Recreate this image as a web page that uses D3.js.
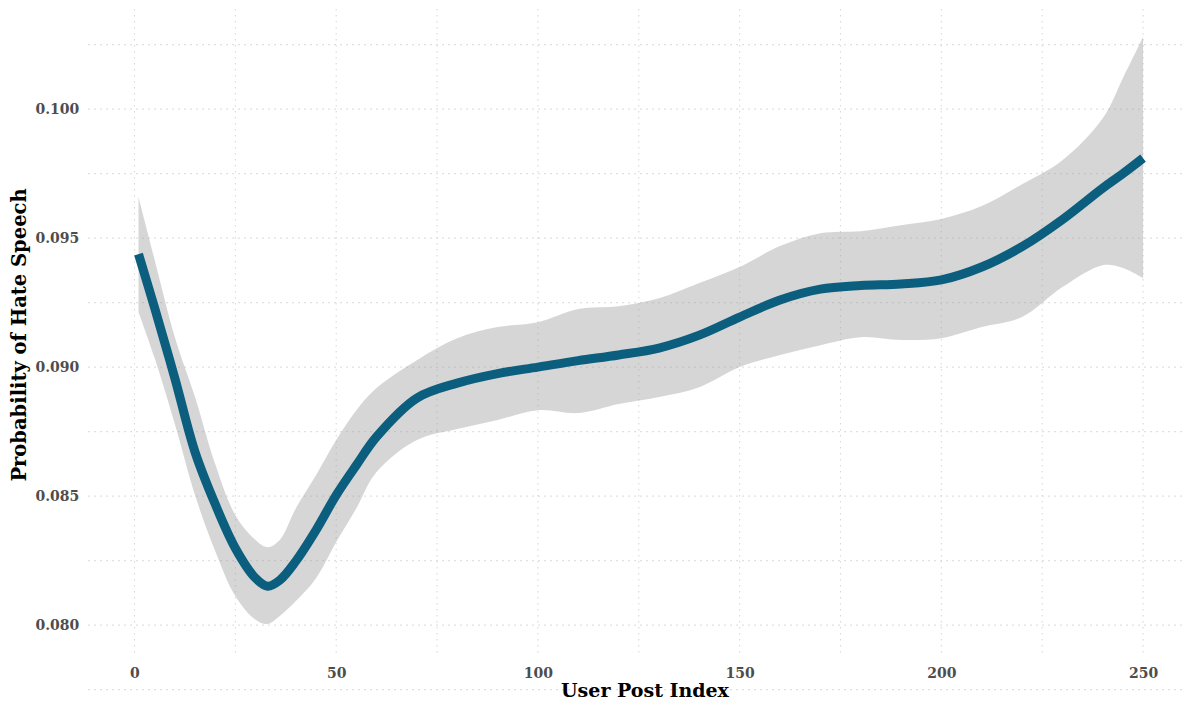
<!DOCTYPE html>
<html>
<head>
<meta charset="utf-8">
<script src="https://cdn.jsdelivr.net/npm/d3@7"></script>
<style>
  html, body { margin: 0; padding: 0; background: #ffffff; }
  svg { display: block; }
  text { font-family: "DejaVu Serif", "Liberation Serif", serif; font-weight: bold; }
</style>
</head>
<body>
<svg id="chart" width="1182" height="704"></svg>
<script>
// Smoothed probability of hate speech by the index of a user's post
const postIndex = [1, 5, 10, 15, 20, 25, 30, 33, 36, 40, 45, 50, 55, 60, 70, 80, 90, 100, 110, 120,
                   130, 140, 150, 160, 170, 180, 190, 200, 210, 220, 230, 240, 245, 250];
const fitted    = [0.09438, 0.09229, 0.08957, 0.08671, 0.08469, 0.08298, 0.08182, 0.08151, 0.08174, 0.08248,
                   0.08368, 0.08504, 0.08620, 0.08730, 0.08880, 0.08938, 0.08975, 0.09000, 0.09025, 0.09047,
                   0.09074, 0.09124, 0.09194, 0.09260, 0.09302, 0.09316, 0.09322, 0.09338, 0.09388, 0.09467,
                   0.09572, 0.09694, 0.09750, 0.09810];
const upperBand = [0.09659, 0.09415, 0.09116, 0.08884, 0.08624, 0.08426, 0.08330, 0.08302, 0.08330, 0.08453,
                   0.08581, 0.08717, 0.08833, 0.08919, 0.09027, 0.09112, 0.09155, 0.09174, 0.09225, 0.09236,
                   0.09267, 0.09326, 0.09388, 0.09469, 0.09519, 0.09527, 0.09550, 0.09574, 0.09624, 0.09709,
                   0.09802, 0.09965, 0.10120, 0.10279];
const lowerBand = [0.09213, 0.09035, 0.08779, 0.08504, 0.08287, 0.08112, 0.08021, 0.08004, 0.08035, 0.08093,
                   0.08182, 0.08322, 0.08453, 0.08593, 0.08717, 0.08760, 0.08795, 0.08833, 0.08822, 0.08857,
                   0.08884, 0.08922, 0.09000, 0.09047, 0.09085, 0.09116, 0.09105, 0.09112, 0.09155, 0.09194,
                   0.09310, 0.09395, 0.09384, 0.09345];

const xTicks = [0, 50, 100, 150, 200, 250];
const xMinorTicks = [25, 75, 125, 175, 225];
const yTicks = [0.080, 0.085, 0.090, 0.095, 0.100];
const yMinorTicks = [0.0775, 0.0825, 0.0875, 0.0925, 0.0975, 0.1025];

const xTitle = "User Post Index";
const yTitle = "Probability of Hate Speech";

const svg = d3.select("#chart");
const W = 1182, H = 704;
const panel = { left: 88.3, right: 1193.3, top: 9, bottom: 654 };

const x = d3.scaleLinear().domain([-11.45, 262.45]).range([panel.left, panel.right]);
const y = d3.scaleLinear().domain([0.07888, 0.10388]).range([panel.bottom, panel.top]);

const rows = postIndex.map((p, i) => ({ p, fit: fitted[i], lo: lowerBand[i], hi: upperBand[i] }));

// grid (dotted, major and minor alike)
const grid = svg.append("g").attr("class", "grid")
  .attr("stroke", "#d9d9d9").attr("stroke-width", 1.1).attr("stroke-dasharray", "1.6,4.4");
grid.selectAll("line.h").data(yTicks.concat(yMinorTicks)).join("line").attr("class", "h")
  .attr("x1", panel.left).attr("x2", W)
  .attr("y1", d => y(d)).attr("y2", d => y(d));
grid.selectAll("line.v").data(xTicks.concat(xMinorTicks)).join("line").attr("class", "v")
  .attr("y1", panel.top).attr("y2", panel.bottom)
  .attr("x1", d => x(d)).attr("x2", d => x(d));

const smooth = d3.curveCatmullRom.alpha(0.5);

// confidence band
const band = d3.area()
  .x(d => x(d.p)).y0(d => y(d.lo)).y1(d => y(d.hi))
  .curve(smooth);
svg.append("path").datum(rows)
  .attr("d", band)
  .attr("fill", "#999999").attr("fill-opacity", 0.4);

// fitted line
const fitLine = d3.line().x(d => x(d.p)).y(d => y(d.fit)).curve(smooth);
svg.append("path").datum(rows)
  .attr("d", fitLine)
  .attr("fill", "none")
  .attr("stroke", "#0b5e7e").attr("stroke-width", 9)
  .attr("stroke-linejoin", "round").attr("stroke-linecap", "butt");

// axes (labels only)
const xAxis = svg.append("g").attr("transform", `translate(0,${panel.bottom})`)
  .call(d3.axisBottom(x).tickValues(xTicks).tickSize(0).tickPadding(14).tickFormat(d3.format("d")));
const yAxis = svg.append("g").attr("transform", `translate(${panel.left},0)`)
  .call(d3.axisLeft(y).tickValues(yTicks).tickSize(0).tickPadding(9).tickFormat(d3.format(".3f")));
[xAxis, yAxis].forEach(a => {
  a.select(".domain").remove();
  a.selectAll("text")
    .attr("fill", "#4d4d4d")
    .style("font-family", "'DejaVu Serif', serif")
    .style("font-weight", "bold")
    .style("font-size", "14px");
});

// titles
svg.append("text")
  .attr("x", 645).attr("y", 697)
  .attr("text-anchor", "middle")
  .attr("fill", "#000")
  .style("font-size", "19px")
  .text(xTitle);
svg.append("text")
  .attr("transform", `translate(26,335) rotate(-90)`)
  .attr("text-anchor", "middle")
  .attr("fill", "#000")
  .style("font-size", "19.5px")
  .text(yTitle);
</script>
</body>
</html>
